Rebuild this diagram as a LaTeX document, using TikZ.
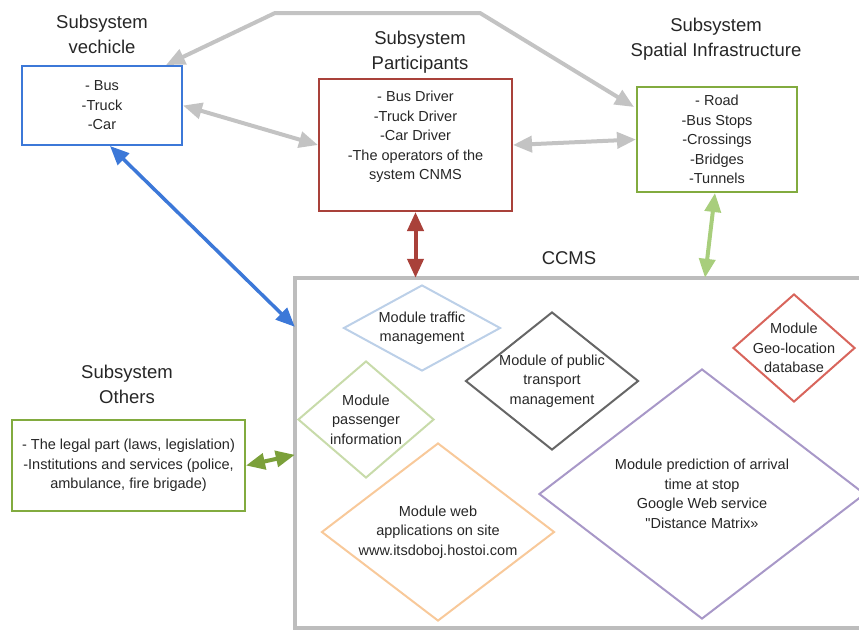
\documentclass[tikz,border=0pt]{standalone}
\usepackage{fontspec}
\setmainfont{Liberation Sans}
\newfontfamily\qfont{Liberation Sans}
\usetikzlibrary{shapes.geometric,arrows.meta,calc}
\definecolor{vblue}{HTML}{3C78D8}
\definecolor{pred}{HTML}{A9413A}
\definecolor{sgreen}{HTML}{82AB3F}
\definecolor{lgreen}{HTML}{A8CE7C}
\definecolor{ogreen}{HTML}{7BA03A}
\definecolor{arrgray}{HTML}{C3C3C3}
\definecolor{ccmsgray}{HTML}{BDBDBD}
\definecolor{dblue}{HTML}{BCD0E8}
\definecolor{dgreen}{HTML}{C8DBAA}
\definecolor{dgray}{HTML}{666666}
\definecolor{dred}{HTML}{D8655C}
\definecolor{dpeach}{HTML}{F8C99A}
\definecolor{dpurple}{HTML}{A898C8}
\begin{document}
\begin{tikzpicture}[x=1pt,y=-1pt,
  title/.style={font=\fontsize{18.5}{25}\selectfont, align=center, text=black!85},
  boxtext/.style={font=\fontsize{14.5}{19.5}\selectfont, align=center, text=black!85},
  sbox/.style={draw, line width=2pt, inner sep=0pt},
  dia/.style={diamond, draw, line width=2pt, inner sep=0pt},
  dtext/.style={font=\fontsize{14.5}{19.5}\selectfont, align=center, text=black!85},
  conn/.style={line width=4pt, {Triangle[length=19pt,width=16pt]}-{Triangle[length=19pt,width=16pt]}}
]
\useasboundingbox (0,0) rectangle (859,630);

% Subsystem boxes
\node[sbox, draw=vblue, minimum width=160pt, minimum height=79pt, boxtext] (veh) at (102,105.5)
  {- Bus\\-Truck\\-Car};
\node[title] (vehT) at (102,34.5) {Subsystem\\vechicle};

\node[sbox, draw=pred, minimum width=193pt, minimum height=132pt, boxtext] (par) at (415.5,145)
  {- Bus Driver\\-Truck Driver\\-Car Driver\\-The operators of the\\system CNMS\\\mbox{}};
\node[title] (parT) at (420,52) {Subsystem\\Participants};

\node[sbox, draw=sgreen, minimum width=160pt, minimum height=105pt, boxtext] (sp) at (717,139.5)
  {- Road\\-Bus Stops\\-Crossings\\-Bridges\\-Tunnels};
\node[title] (spT) at (716,39.5) {Subsystem\\Spatial Infrastructure};

\node[sbox, draw=sgreen, minimum width=233pt, minimum height=91pt, boxtext] (oth) at (128.5,465.5)
  {- The legal part (laws, legislation)\\-Institutions and services (police,\\ambulance, fire brigade)};
\node[title] (othT) at (127,384) {Subsystem\\Others};

% CCMS frame
\node[minimum width=575pt, minimum height=350pt, inner sep=0pt] (ccms) at (582.5,453) {};
\draw[ccmsgray, line width=3.5pt] (ccms.north east) -- (ccms.north west) -- (ccms.south west) -- (ccms.south east);
\node[title] (ccmsT) at (569,258) {CCMS};

% Modules
\node[dia, draw=dblue, minimum width=157pt, minimum height=86pt] (traffic) at (422,328) {};
\node[dtext] at (traffic) {Module traffic\\management};

\node[dia, draw=dgray, minimum width=173pt, minimum height=138pt] (public) at (552,381) {};
\node[dtext] at (public) {Module of public\\transport\\management};

\node[dia, draw=dgreen, minimum width=136pt, minimum height=117pt] (pass) at (366,419.5) {};
\node[dtext] at (pass) {Module\\passenger\\information};

\node[dia, draw=dred, minimum width=122pt, minimum height=108pt] (geo) at (794,348) {};
\node[dtext] at (geo) {Module\\Geo-location\\database};

\node[dia, draw=dpeach, minimum width=233pt, minimum height=178pt] (web) at (438,532) {};
\node[dtext] at (web) {Module web\\applications on site\\www.itsdoboj.hostoi.com};

\node[dia, draw=dpurple, minimum width=326pt, minimum height=250pt] (pred) at (702,494) {};
\node[dtext] at (pred) {Module prediction of arrival\\time at stop\\Google Web service\\{\qfont"}Distance Matrix»};

% Connectors
\coordinate (g1) at (480,13);
\coordinate (g2) at (275,13);
\draw[conn, arrgray, line join=miter] ($(sp.north west)+(-2,21)$) -- (g1) -- (g2) -- ($(veh.north east)+(-17,0)$);
\draw[conn, arrgray] (veh.east) -- (par.west);
\draw[conn, arrgray] (par.east) -- (sp.west);
\draw[conn, pred] (par.south) -- (par.south |- ccms.north);
\draw[conn, lgreen] ($(sp.south)+(-2,0)$) -- ($(sp.south |- ccms.north)+(-12,0)$);
\draw[conn, vblue, line width=3.5pt] ($(veh.south)+(8,0)$) -- ($(ccms.north west)+(0,49)$);
\draw[conn, ogreen] (oth.east) -- ($(ccms.north west)+(0,177)$);
\end{tikzpicture}
\end{document}
